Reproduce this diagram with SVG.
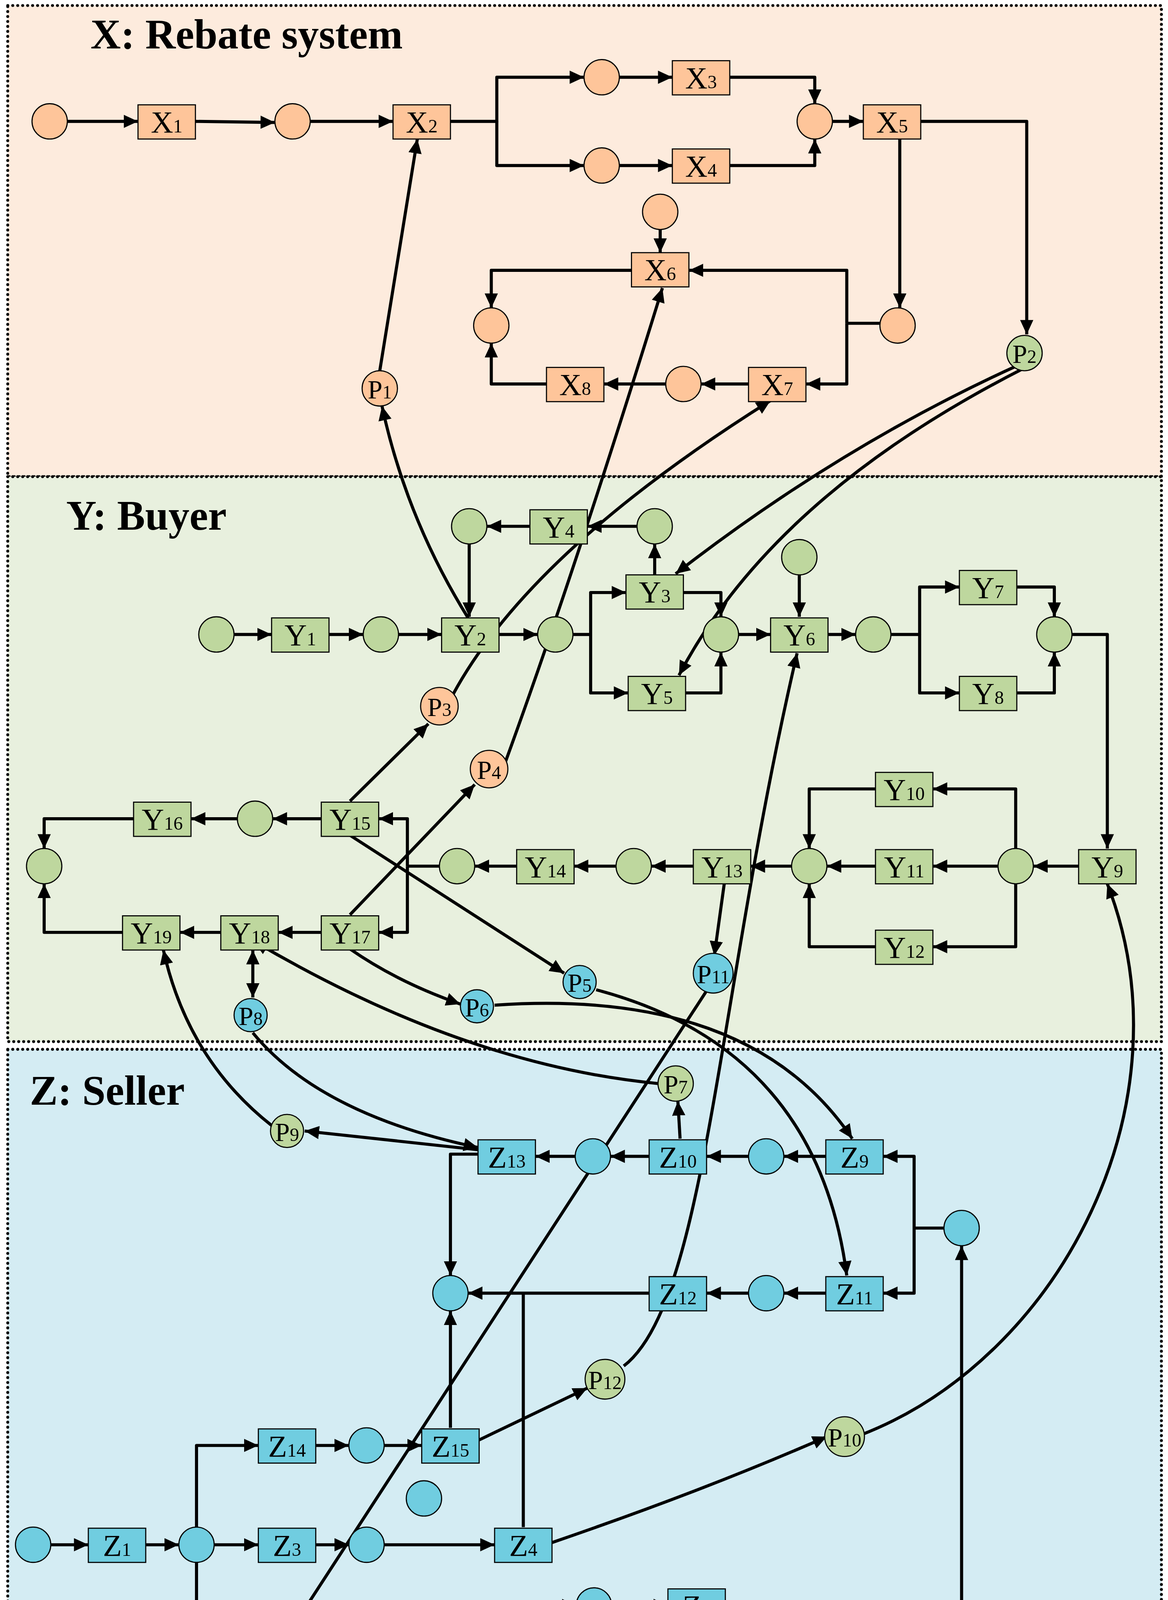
<svg xmlns="http://www.w3.org/2000/svg" width="2990" height="4415" viewBox="0 0 2990 4415">
<style>
.bx{fill:#fec59a;stroke:#000;stroke-width:1}
.by{fill:#bed79e;stroke:#000;stroke-width:1}
.bz{fill:#70cde0;stroke:#000;stroke-width:1}
text{font-family:"Liberation Serif","Times New Roman",serif;fill:#000}
.l{font-size:28px;text-anchor:middle}
.s{font-size:17px}
.t{font-size:38px;font-weight:bold}
.e path,.e polyline,.e line{fill:none;stroke:#000;stroke-width:2.8;stroke-linejoin:round}
.a{marker-end:url(#ah)}
.panel{stroke:#000;stroke-width:2.6;stroke-dasharray:0.1 4.4;stroke-linecap:round}
</style>
<defs>
<marker id="ah" markerUnits="userSpaceOnUse" markerWidth="14" markerHeight="13" refX="13" refY="6" orient="auto"><path d="M0,0 L13,6 L0,12 z" fill="#000"/></marker>
<marker id="as" markerUnits="userSpaceOnUse" markerWidth="14" markerHeight="13" refX="0" refY="6" orient="auto"><path d="M13,0 L0,6 L13,12 z" fill="#000"/></marker>
</defs>
<rect width="2990" height="4415" fill="#fff"/>
<g transform="scale(2.8262,2.8247)">
<rect class="panel" x="7" y="5" width="1045" height="427" fill="#fdebdd"/>
<rect class="panel" x="7" y="432" width="1045" height="512" fill="#e8f0de"/>
<rect class="panel" x="7" y="951" width="1045" height="609" fill="#d4ecf3"/>
<text class="t" x="82" y="44">X: Rebate system</text>
<text class="t" x="60" y="480">Y: Buyer</text>
<text class="t" x="27" y="1001">Z: Seller</text>

<g id="connectors" class="e">
<line class="a" x1="61" y1="110" x2="125" y2="110"/>
<line class="a" x1="177" y1="110" x2="249" y2="111"/>
<line class="a" x1="281" y1="110" x2="356" y2="110"/>
<polyline class="a" points="408,110 450,110 450,70 529,70"/>
<polyline class="a" points="450,110 450,150 529,150"/>
<line class="a" x1="561" y1="70" x2="609" y2="70"/>
<line class="a" x1="561" y1="150" x2="609" y2="150"/>
<polyline class="a" points="661,70 738,70 738,94"/>
<polyline class="a" points="661,150 738,150 738,126"/>
<line class="a" x1="754" y1="110" x2="782" y2="110"/>
<polyline class="a" points="815,126 815,279"/>
<polyline class="a" points="834,110 930,110 930,303"/>
<line class="a" x1="598" y1="208" x2="598" y2="229"/>
<polyline class="a" points="572,245 445,245 445,279"/>
<polyline points="797,293 767,293"/>
<polyline class="a" points="767,293 767,245 624,245"/>
<polyline class="a" points="767,293 767,348 730,348"/>
<line class="a" x1="678" y1="348" x2="635" y2="348"/>
<line class="a" x1="603" y1="348" x2="547" y2="348"/>
<polyline class="a" points="495,348 445,348 445,311"/>
<line class="a" x1="344" y1="336" x2="378" y2="126"/>
<path class="a" d="M424,560 Q368,470 346,368"/>
<path class="a" d="M920,332 Q760,405 612,520"/>
<path class="a" d="M925,335 Q700,450 615,612"/>
<line class="a" x1="577" y1="477" x2="532" y2="477"/>
<line class="a" x1="480" y1="477" x2="441" y2="477"/>
<line class="a" x1="425" y1="493" x2="425" y2="559"/>
<line class="a" x1="593" y1="521" x2="593" y2="493"/>
<line class="a" x1="212" y1="575" x2="246" y2="575"/>
<line class="a" x1="298" y1="575" x2="329" y2="575"/>
<line class="a" x1="361" y1="575" x2="400" y2="575"/>
<line class="a" x1="452" y1="575" x2="487" y2="575"/>
<polyline class="a" points="519,575 535,575 535,537 567,537"/>
<polyline class="a" points="535,575 535,628 569,628"/>
<polyline class="a" points="619,537 653,537 653,559"/>
<polyline class="a" points="621,628 653,628 653,591"/>
<line class="a" x1="669" y1="575" x2="698" y2="575"/>
<line class="a" x1="724" y1="521" x2="724" y2="559"/>
<line class="a" x1="750" y1="575" x2="775" y2="575"/>
<polyline class="a" points="807,575 833,575 833,532 869,532"/>
<polyline class="a" points="833,575 833,628 869,628"/>
<polyline class="a" points="921,532 955,532 955,559"/>
<polyline class="a" points="921,628 955,628 955,591"/>
<polyline class="a" points="971,575 1003,575 1003,769"/>
<line class="a" x1="977" y1="785" x2="936" y2="785"/>
<polyline class="a" points="920,769 920,715 845,715"/>
<polyline class="a" points="920,801 920,858 845,858"/>
<line class="a" x1="904" y1="785" x2="845" y2="785"/>
<line class="a" x1="793" y1="785" x2="749" y2="785"/>
<polyline class="a" points="793,715 733,715 733,769"/>
<polyline class="a" points="793,858 733,858 733,801"/>
<line class="a" x1="717" y1="785" x2="680" y2="785"/>
<line class="a" x1="628" y1="785" x2="590" y2="785"/>
<line class="a" x1="558" y1="785" x2="520" y2="785"/>
<line class="a" x1="468" y1="785" x2="430" y2="785"/>
<line class="a" x1="656" y1="801" x2="647" y2="866"/>
<polyline points="398,785 369,785"/>
<polyline class="a" points="369,785 369,742 343,742"/>
<polyline class="a" points="369,785 369,845 343,845"/>
<line class="a" x1="291" y1="742" x2="247" y2="742"/>
<line class="a" x1="215" y1="742" x2="173" y2="742"/>
<polyline class="a" points="121,742 40,742 40,769"/>
<polyline class="a" points="111,845 40,845 40,801"/>
<line class="a" x1="291" y1="845" x2="252" y2="845"/>
<line class="a" x1="200" y1="845" x2="163" y2="845"/>
<line class="a" style="marker-start:url(#as)" x1="229" y1="861" x2="229" y2="904"/>
<line class="a" x1="317" y1="726" x2="388" y2="656"/>
<path class="a" d="M410,630 Q480,500 698,363"/>
<line class="a" x1="317" y1="829" x2="430" y2="711"/>
<path class="a" d="M458,690 Q520,520 600,261"/>
<line class="a" x1="317" y1="757" x2="511" y2="882"/>
<path class="a" d="M317,860 Q360,890 417,910"/>
<path class="a" d="M540,897 Q740,950 767,1156"/>
<path class="a" d="M448,911 Q680,895 772,1032"/>
<path class="a" d="M596,982 Q420,965 230,853"/>
<path class="a" d="M229,936 Q290,1010 433,1040"/>
<line class="a" x1="433" y1="1042" x2="276" y2="1025"/>
<path class="a" d="M246,1020 Q170,960 148,861"/>
<line class="a" x1="640" y1="898" x2="267" y2="1472"/>
<path class="a" d="M565,1238 C640,1180 650,900 722,592"/>
<path class="a" d="M781,1300 C960,1230 1080,1000 1003,801"/>
<path class="a" d="M500,1398 Q640,1350 749,1302"/>
<line class="a" x1="616" y1="1032" x2="614" y2="998"/>
<line class="a" x1="748" y1="1048" x2="710" y2="1048"/>
<line class="a" x1="678" y1="1048" x2="640" y2="1048"/>
<line class="a" x1="588" y1="1048" x2="553" y2="1048"/>
<line class="a" x1="521" y1="1048" x2="485" y2="1048"/>
<polyline class="a" points="433,1046 408,1046 408,1156"/>
<line class="a" x1="588" y1="1172" x2="424" y2="1172"/>
<line class="a" x1="678" y1="1172" x2="640" y2="1172"/>
<line class="a" x1="748" y1="1172" x2="710" y2="1172"/>
<polyline points="855,1113 828,1113"/>
<polyline class="a" points="828,1113 828,1048 800,1048"/>
<polyline class="a" points="828,1113 828,1172 800,1172"/>
<polyline class="a" points="810,1492 871,1492 871,1129"/>
<polyline points="474,1384 474,1172"/>
<line class="a" x1="408" y1="1294" x2="408" y2="1188"/>
<line class="a" x1="434" y1="1305" x2="532" y2="1258"/>
<line class="a" x1="46" y1="1400" x2="80" y2="1400"/>
<line class="a" x1="132" y1="1400" x2="162" y2="1400"/>
<polyline class="a" points="178,1384 178,1310 234,1310"/>
<line class="a" x1="194" y1="1400" x2="234" y2="1400"/>
<polyline class="a" points="178,1416 178,1488 234,1488"/>
<line class="a" x1="286" y1="1310" x2="316" y2="1310"/>
<line class="a" x1="348" y1="1310" x2="382" y2="1310"/>
<line class="a" x1="286" y1="1400" x2="316" y2="1400"/>
<line class="a" x1="348" y1="1400" x2="448" y2="1400"/>
<line class="a" x1="286" y1="1488" x2="316" y2="1488"/>
<line class="a" x1="348" y1="1488" x2="394" y2="1488"/>
<polyline class="a" points="446,1488 475,1488 475,1455 522,1455"/>
<polyline class="a" points="475,1488 475,1530 522,1530"/>
<line class="a" x1="554" y1="1455" x2="605" y2="1455"/>
<line class="a" x1="554" y1="1530" x2="605" y2="1530"/>
<polyline class="a" points="657,1455 710,1455 710,1476"/>
<polyline class="a" points="657,1530 710,1530 710,1508"/>
<line class="a" x1="726" y1="1492" x2="758" y2="1492"/>
</g>

<g id="xc0"><circle class="bx" cx="45" cy="110" r="16"/></g>
<g id="X1"><rect class="bx" x="125" y="95" width="52" height="31"/><text class="l" x="151" y="120">X<tspan class="s">1</tspan></text></g>
<g id="xc1"><circle class="bx" cx="265" cy="110" r="16"/></g>
<g id="X2"><rect class="bx" x="356" y="95" width="52" height="31"/><text class="l" x="382" y="120">X<tspan class="s">2</tspan></text></g>
<g id="xc2"><circle class="bx" cx="545" cy="70" r="16"/></g>
<g id="X3"><rect class="bx" x="609" y="55" width="52" height="31"/><text class="l" x="635" y="80">X<tspan class="s">3</tspan></text></g>
<g id="xc3"><circle class="bx" cx="545" cy="150" r="16"/></g>
<g id="X4"><rect class="bx" x="609" y="135" width="52" height="31"/><text class="l" x="635" y="160">X<tspan class="s">4</tspan></text></g>
<g id="xc4"><circle class="bx" cx="738" cy="110" r="16"/></g>
<g id="X5"><rect class="bx" x="782" y="95" width="52" height="31"/><text class="l" x="808" y="120">X<tspan class="s">5</tspan></text></g>
<g id="xc5"><circle class="bx" cx="598" cy="192" r="16"/></g>
<g id="X6"><rect class="bx" x="572" y="229" width="52" height="31"/><text class="l" x="598" y="254">X<tspan class="s">6</tspan></text></g>
<g id="xc6"><circle class="bx" cx="445" cy="295" r="16"/></g>
<g id="xc7"><circle class="bx" cx="813" cy="295" r="16"/></g>
<g id="X7"><rect class="bx" x="678" y="333" width="52" height="31"/><text class="l" x="704" y="358">X<tspan class="s">7</tspan></text></g>
<g id="xc8"><circle class="bx" cx="619" cy="348" r="16"/></g>
<g id="X8"><rect class="bx" x="495" y="333" width="52" height="31"/><text class="l" x="521" y="358">X<tspan class="s">8</tspan></text></g>
<g id="P1"><circle class="bx" cx="344" cy="352" r="16"/><text class="l" x="344" y="361" style="font-size:24px">P<tspan class="s">1</tspan></text></g>
<g id="P2"><circle class="by" cx="928" cy="320" r="16"/><text class="l" x="928" y="329" style="font-size:24px">P<tspan class="s">2</tspan></text></g>

<g id="Y4"><rect class="by" x="480" y="462" width="52" height="31"/><text class="l" x="506" y="487">Y<tspan class="s">4</tspan></text></g>
<g id="yc1"><circle class="by" cx="425" cy="477" r="16"/></g>
<g id="yc2"><circle class="by" cx="593" cy="477" r="16"/></g>
<g id="Y3"><rect class="by" x="567" y="521" width="52" height="31"/><text class="l" x="593" y="546">Y<tspan class="s">3</tspan></text></g>
<g id="yc3"><circle class="by" cx="196" cy="575" r="16"/></g>
<g id="Y1"><rect class="by" x="246" y="560" width="52" height="31"/><text class="l" x="272" y="585">Y<tspan class="s">1</tspan></text></g>
<g id="yc4"><circle class="by" cx="345" cy="575" r="16"/></g>
<g id="Y2"><rect class="by" x="400" y="560" width="52" height="31"/><text class="l" x="426" y="585">Y<tspan class="s">2</tspan></text></g>
<g id="yc5"><circle class="by" cx="503" cy="575" r="16"/></g>
<g id="yc6"><circle class="by" cx="653" cy="575" r="16"/></g>
<g id="Y6"><rect class="by" x="698" y="560" width="52" height="31"/><text class="l" x="724" y="585">Y<tspan class="s">6</tspan></text></g>
<g id="yc7"><circle class="by" cx="724" cy="505" r="16"/></g>
<g id="yc8"><circle class="by" cx="791" cy="575" r="16"/></g>
<g id="Y7"><rect class="by" x="869" y="517" width="52" height="31"/><text class="l" x="895" y="542">Y<tspan class="s">7</tspan></text></g>
<g id="Y8"><rect class="by" x="869" y="613" width="52" height="31"/><text class="l" x="895" y="638">Y<tspan class="s">8</tspan></text></g>
<g id="yc9"><circle class="by" cx="955" cy="575" r="16"/></g>
<g id="Y5"><rect class="by" x="569" y="613" width="52" height="31"/><text class="l" x="595" y="638">Y<tspan class="s">5</tspan></text></g>
<g id="P3"><circle class="bx" cx="398" cy="640" r="17"/><text class="l" x="398" y="649" style="font-size:24px">P<tspan class="s">3</tspan></text></g>
<g id="P4"><circle class="bx" cx="443" cy="697" r="17"/><text class="l" x="443" y="706" style="font-size:24px">P<tspan class="s">4</tspan></text></g>
<g id="Y16"><rect class="by" x="121" y="727" width="52" height="31"/><text class="l" x="147" y="752">Y<tspan class="s">16</tspan></text></g>
<g id="yc10"><circle class="by" cx="231" cy="742" r="16"/></g>
<g id="Y15"><rect class="by" x="291" y="727" width="52" height="31"/><text class="l" x="317" y="752">Y<tspan class="s">15</tspan></text></g>
<g id="yc11"><circle class="by" cx="40" cy="785" r="16"/></g>
<g id="Y19"><rect class="by" x="111" y="830" width="52" height="31"/><text class="l" x="137" y="855">Y<tspan class="s">19</tspan></text></g>
<g id="Y18"><rect class="by" x="200" y="830" width="52" height="31"/><text class="l" x="226" y="855">Y<tspan class="s">18</tspan></text></g>
<g id="Y17"><rect class="by" x="291" y="830" width="52" height="31"/><text class="l" x="317" y="855">Y<tspan class="s">17</tspan></text></g>
<g id="yc12"><circle class="by" cx="414" cy="785" r="16"/></g>
<g id="Y14"><rect class="by" x="468" y="770" width="52" height="31"/><text class="l" x="494" y="795">Y<tspan class="s">14</tspan></text></g>
<g id="yc13"><circle class="by" cx="574" cy="785" r="16"/></g>
<g id="Y13"><rect class="by" x="628" y="770" width="52" height="31"/><text class="l" x="654" y="795">Y<tspan class="s">13</tspan></text></g>
<g id="yc14"><circle class="by" cx="733" cy="785" r="16"/></g>
<g id="Y10"><rect class="by" x="793" y="700" width="52" height="31"/><text class="l" x="819" y="725">Y<tspan class="s">10</tspan></text></g>
<g id="Y11"><rect class="by" x="793" y="770" width="52" height="31"/><text class="l" x="819" y="795">Y<tspan class="s">11</tspan></text></g>
<g id="Y12"><rect class="by" x="793" y="843" width="52" height="31"/><text class="l" x="819" y="868">Y<tspan class="s">12</tspan></text></g>
<g id="yc15"><circle class="by" cx="920" cy="785" r="16"/></g>
<g id="Y9"><rect class="by" x="977" y="770" width="52" height="31"/><text class="l" x="1003" y="795">Y<tspan class="s">9</tspan></text></g>
<g id="P5"><circle class="bz" cx="525" cy="890" r="15"/><text class="l" x="525" y="899" style="font-size:24px">P<tspan class="s">5</tspan></text></g>
<g id="P6"><circle class="bz" cx="432" cy="912" r="15"/><text class="l" x="432" y="921" style="font-size:24px">P<tspan class="s">6</tspan></text></g>
<g id="P8"><circle class="bz" cx="227" cy="920" r="15"/><text class="l" x="227" y="929" style="font-size:24px">P<tspan class="s">8</tspan></text></g>
<g id="P11"><circle class="bz" cx="646" cy="882" r="18"/><text class="l" x="646" y="891" style="font-size:24px">P<tspan class="s">11</tspan></text></g>

<g id="P7"><circle class="by" cx="612" cy="982" r="16"/><text class="l" x="612" y="991" style="font-size:24px">P<tspan class="s">7</tspan></text></g>
<g id="P9"><circle class="by" cx="260" cy="1025" r="15"/><text class="l" x="260" y="1034" style="font-size:24px">P<tspan class="s">9</tspan></text></g>
<g id="Z13"><rect class="bz" x="433" y="1033" width="52" height="31"/><text class="l" x="459" y="1058">Z<tspan class="s">13</tspan></text></g>
<g id="zc1"><circle class="bz" cx="537" cy="1048" r="16"/></g>
<g id="Z10"><rect class="bz" x="588" y="1033" width="52" height="31"/><text class="l" x="614" y="1058">Z<tspan class="s">10</tspan></text></g>
<g id="zc2"><circle class="bz" cx="694" cy="1048" r="16"/></g>
<g id="Z9"><rect class="bz" x="748" y="1033" width="52" height="31"/><text class="l" x="774" y="1058">Z<tspan class="s">9</tspan></text></g>
<g id="zc3"><circle class="bz" cx="871" cy="1113" r="16"/></g>
<g id="zc4"><circle class="bz" cx="408" cy="1172" r="16"/></g>
<g id="Z12"><rect class="bz" x="588" y="1157" width="52" height="31"/><text class="l" x="614" y="1182">Z<tspan class="s">12</tspan></text></g>
<g id="zc5"><circle class="bz" cx="694" cy="1172" r="16"/></g>
<g id="Z11"><rect class="bz" x="748" y="1157" width="52" height="31"/><text class="l" x="774" y="1182">Z<tspan class="s">11</tspan></text></g>
<g id="P12"><circle class="by" cx="548" cy="1250" r="18"/><text class="l" x="548" y="1259" style="font-size:24px">P<tspan class="s">12</tspan></text></g>
<g id="P10"><circle class="by" cx="765" cy="1302" r="18"/><text class="l" x="765" y="1311" style="font-size:24px">P<tspan class="s">10</tspan></text></g>
<g id="Z14"><rect class="bz" x="234" y="1295" width="52" height="31"/><text class="l" x="260" y="1320">Z<tspan class="s">14</tspan></text></g>
<g id="zc6"><circle class="bz" cx="332" cy="1310" r="16"/></g>
<g id="Z15"><rect class="bz" x="382" y="1295" width="52" height="31"/><text class="l" x="408" y="1320">Z<tspan class="s">15</tspan></text></g>
<g id="zc7"><circle class="bz" cx="384" cy="1358" r="16"/></g>
<g id="zc8"><circle class="bz" cx="30" cy="1400" r="16"/></g>
<g id="Z1"><rect class="bz" x="80" y="1385" width="52" height="31"/><text class="l" x="106" y="1410">Z<tspan class="s">1</tspan></text></g>
<g id="zc9"><circle class="bz" cx="178" cy="1400" r="16"/></g>
<g id="Z3"><rect class="bz" x="234" y="1385" width="52" height="31"/><text class="l" x="260" y="1410">Z<tspan class="s">3</tspan></text></g>
<g id="zc10"><circle class="bz" cx="332" cy="1400" r="16"/></g>
<g id="Z4"><rect class="bz" x="448" y="1385" width="52" height="31"/><text class="l" x="474" y="1410">Z<tspan class="s">4</tspan></text></g>
<g id="Z2"><rect class="bz" x="234" y="1473" width="52" height="31"/><text class="l" x="260" y="1498">Z<tspan class="s">2</tspan></text></g>
<g id="zc11"><circle class="bz" cx="332" cy="1488" r="16"/></g>
<g id="Z5"><rect class="bz" x="394" y="1473" width="52" height="31"/><text class="l" x="420" y="1498">Z<tspan class="s">5</tspan></text></g>
<g id="zc12"><circle class="bz" cx="538" cy="1455" r="16"/></g>
<g id="Z6"><rect class="bz" x="605" y="1440" width="52" height="31"/><text class="l" x="631" y="1465">Z<tspan class="s">6</tspan></text></g>
<g id="zc13"><circle class="bz" cx="538" cy="1530" r="16"/></g>
<g id="Z7"><rect class="bz" x="605" y="1515" width="52" height="31"/><text class="l" x="631" y="1540">Z<tspan class="s">7</tspan></text></g>
<g id="zc14"><circle class="bz" cx="710" cy="1492" r="16"/></g>
<g id="Z8"><rect class="bz" x="758" y="1477" width="52" height="31"/><text class="l" x="784" y="1502">Z<tspan class="s">8</tspan></text></g>
</g>
</svg>
